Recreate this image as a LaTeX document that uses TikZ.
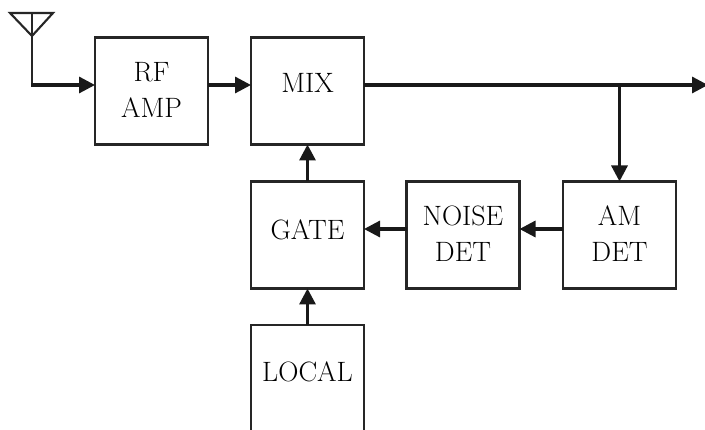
\documentclass[tikz,border=0pt]{standalone}
\usetikzlibrary{arrows.meta}
\begin{document}
\begin{tikzpicture}[x=1pt,y=-1pt,
  box/.style={draw=black!85,line width=2.1pt,minimum width=113pt,minimum height=107pt,inner sep=0pt,outer sep=0pt},
  openbox/.style={minimum width=113pt,minimum height=115pt,inner sep=0pt,outer sep=0pt},
  lbl/.style={font=\fontsize{28}{36}\selectfont,align=center,inner sep=0pt,text=black},
  conn/.style={line width=3.2pt,draw=black!90,-{Triangle[length=16pt,width=16pt]}},
  thin/.style={line width=2.1pt,draw=black!85}]
\useasboundingbox (0,0) rectangle (705,430);
\fill[white] (0,0) rectangle (705,430);
% boxes
\node[box] (rf) at (151.5,91) {};
\node[box] (mix) at (307.5,91) {};
\node[box] (gate) at (307.5,235) {};
\node[box] (noise) at (463,235) {};
\node[box] (am) at (619.5,235) {};
\node[openbox] (local) at (307.5,382.5) {};
\draw[thin] (local.south west) -- (local.north west) -- (local.north east) -- (local.south east);
% labels
\node[lbl] at ([yshift=1pt]rf.center) {RF\\AMP};
\node[lbl] at ([yshift=8pt]mix.center) {MIX};
\node[lbl] at ([yshift=5pt]gate.center) {GATE};
\node[lbl] at ([yshift=1pt]noise.center) {NOISE\\DET};
\node[lbl] at ([yshift=1pt]am.center) {AM\\DET};
\node[lbl] at (307.5,372) {LOCAL};
% antenna
\coordinate (antl) at (10,13);
\coordinate (antr) at (53,13);
\coordinate (apex) at (32,36);
\coordinate (antt) at (32,13);
\coordinate (corner) at (32,85);
\draw[thin,line join=miter] (antl) -- (antr) -- (apex) -- cycle;
\draw[thin] (antt) -- (corner);
% connectors
\coordinate (out) at (708,85);
\coordinate (br) at (619.5,85);
\coordinate (rowb) at (0,229);
\draw[conn] ([xshift=-1pt]corner) -- (rf.west |- corner);
\draw[conn] (rf.east |- corner) -- (mix.west |- corner);
\draw[conn] (mix.east |- corner) -- (out);
\draw[conn] (br) -- (am.north);
\draw[conn] (am.west |- rowb) -- (noise.east |- rowb);
\draw[conn] (noise.west |- rowb) -- (gate.east |- rowb);
\draw[conn] (gate.north) -- (mix.south);
\draw[conn] (local.north) -- (gate.south);
\end{tikzpicture}
\end{document}
